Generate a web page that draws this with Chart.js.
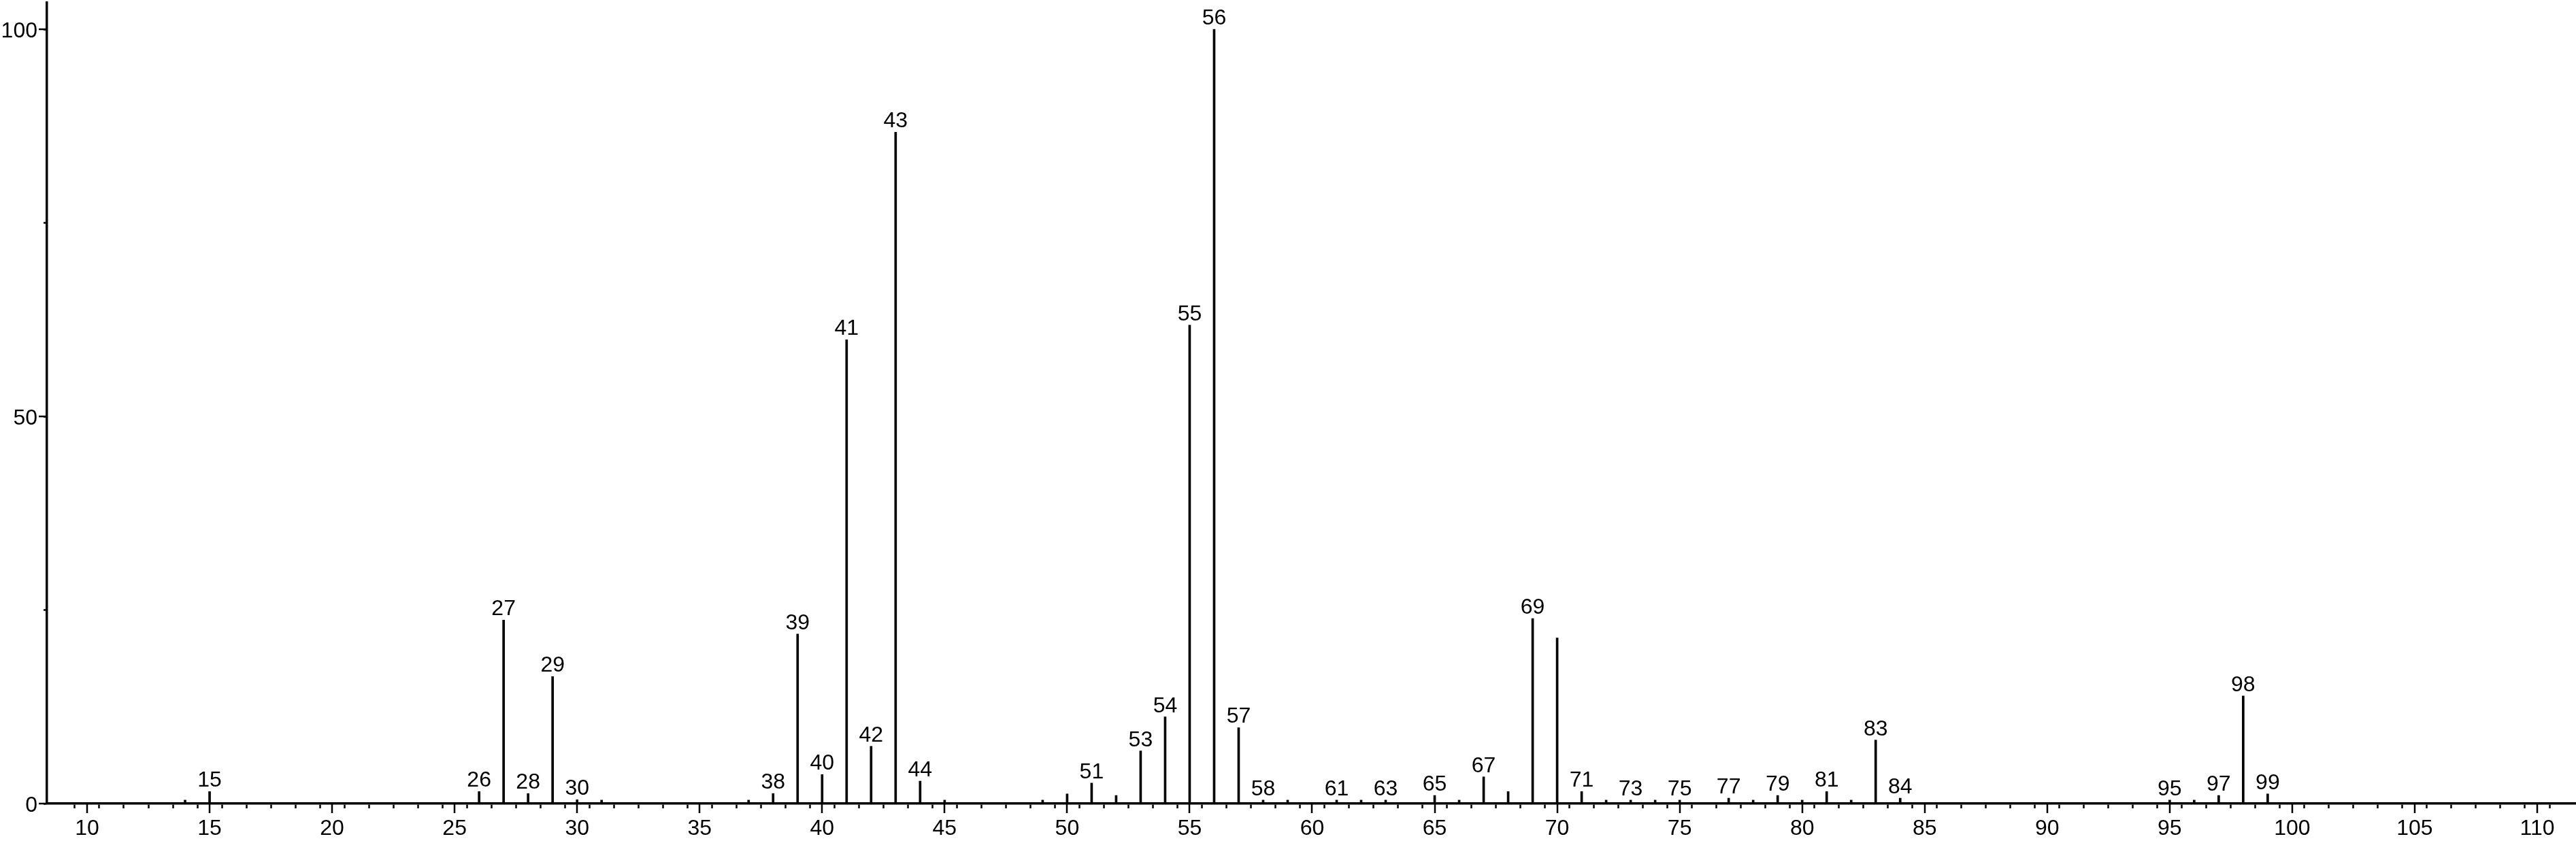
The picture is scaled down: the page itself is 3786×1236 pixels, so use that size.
<!DOCTYPE html>
<html>
<head>
<meta charset="utf-8">
<script src="https://cdn.jsdelivr.net/npm/chart.js@4.4.1/dist/chart.umd.min.js"></script>
<style>
  html, body { margin: 0; padding: 0; background: #fff; }
  #wrap { width: 3786px; height: 1236px; position: relative; }
</style>
</head>
<body>
<div id="wrap"><canvas id="ms-chart"></canvas></div>
<script>
// m/z waarden en relatieve intensiteit (%)
const masses = [14, 15, 26, 27, 28, 29, 30, 31, 37, 38, 39, 40, 41, 42, 43, 44, 45,
  49, 50, 51, 52, 53, 54, 55, 56, 57, 58, 59, 61, 62, 63, 65, 66, 67, 68, 69, 70,
  71, 72, 73, 74, 75, 77, 78, 79, 80, 81, 82, 83, 84, 95, 96, 97, 98, 99];
const intensities = [0.45, 1.55, 1.55, 23.7, 1.3, 16.4, 0.5, 0.45, 0.45, 1.3, 21.9, 3.75, 59.9, 7.4, 86.7, 2.9, 0.45,
  0.45, 1.25, 2.65, 1.05, 6.8, 11.2, 61.8, 100, 9.8, 0.45, 0.45, 0.45, 0.45, 0.45, 1.05, 0.45, 3.45, 1.55, 23.9, 21.4,
  1.55, 0.45, 0.45, 0.45, 0.45, 0.7, 0.45, 1.05, 0.45, 1.55, 0.45, 8.2, 0.7, 0.45, 0.45, 1.05, 13.9, 1.25];

// pieken met een label erboven
const labeledMasses = [15, 26, 27, 28, 29, 30, 38, 39, 40, 41, 42, 43, 44, 51, 53, 54, 55, 56, 57,
  58, 61, 63, 65, 67, 69, 71, 73, 75, 77, 79, 81, 83, 84, 95, 97, 98, 99];

// as-ticks
const xMajorTicks = [10, 15, 20, 25, 30, 35, 40, 45, 50, 55, 60, 65, 70, 75, 80, 85, 90, 95, 100, 105, 110];
const yLabelTicks = [0, 50, 100];

const FONT = "'Liberation Sans', Arial, sans-serif";

const peakLabels = {
  id: "peakLabels",
  afterDatasetsDraw(chart) {
    const ctx = chart.ctx;
    const meta = chart.getDatasetMeta(0);
    ctx.save();
    ctx.fillStyle = "#000";
    ctx.font = `32px ${FONT}`;
    ctx.textAlign = "center";
    ctx.textBaseline = "alphabetic";
    meta.data.forEach((bar, i) => {
      if (!labeledMasses.includes(masses[i])) return;
      ctx.fillText(String(masses[i]), bar.x, bar.y - 7);
    });
    ctx.restore();
  },
  afterDraw(chart) {
    // langere streepjes voor de hoofdticks
    const ctx = chart.ctx;
    const xs = chart.scales.x;
    const ys = chart.scales.y;
    ctx.save();
    ctx.strokeStyle = "#000";
    ctx.lineWidth = 2.5;
    ctx.beginPath();
    xMajorTicks.forEach((v) => {
      const px = Math.round(xs.getPixelForValue(v));
      ctx.moveTo(px, xs.top);
      ctx.lineTo(px, xs.top + 14);
    });
    yLabelTicks.forEach((v) => {
      const py = Math.round(ys.getPixelForValue(v));
      ctx.moveTo(ys.right - 12, py);
      ctx.lineTo(ys.right, py);
    });
    ctx.stroke();
    ctx.restore();
  }
};

const canvas = document.getElementById("ms-chart");
new Chart(canvas, {
  type: "bar",
  data: {
    datasets: [
      {
        label: "Intensiteit",
        data: masses.map((m, i) => ({ x: m, y: intensities[i] })),
        backgroundColor: "#000",
        borderWidth: 0,
        barThickness: 3,
        grouped: false
      }
    ]
  },
  options: {
    responsive: true,
    maintainAspectRatio: false,
    animation: false,
    layout: { padding: { top: 4, right: 0, bottom: 0, left: 0 } },
    plugins: {
      legend: { display: false },
      tooltip: { enabled: false }
    },
    scales: {
      x: {
        type: "linear",
        offset: false,
        min: 8.362,
        max: 111.583,
        border: { display: true, color: "#000", width: 3.5 },
        grid: { drawOnChartArea: false, drawTicks: true, tickLength: 7, tickWidth: 2.5, tickColor: "#000" },
        ticks: {
          stepSize: 1,
          includeBounds: false,
          autoSkip: false,
          maxRotation: 0,
          padding: 11,
          color: "#000",
          font: { family: FONT, size: 32 },
          callback: (v) => (xMajorTicks.includes(v) ? String(v) : "")
        },
        afterBuildTicks: (scale) => {
          scale.ticks = scale.ticks.filter((t) => t.value >= 10 && t.value <= 110);
        },
        afterFit: (scale) => {
          scale.height = 55;
          scale.paddingLeft = 0;
          scale.paddingRight = 0;
        }
      },
      y: {
        type: "linear",
        min: 0,
        max: 103.43,
        border: { display: true, color: "#000", width: 3.5 },
        grid: { drawOnChartArea: false, drawTicks: true, tickLength: 5, tickWidth: 2.5, tickColor: "#000" },
        ticks: {
          stepSize: 25,
          includeBounds: false,
          autoSkip: false,
          padding: 9,
          labelOffset: 3,
          color: "#000",
          font: { family: FONT, size: 32 },
          callback: (v) => (yLabelTicks.includes(v) ? String(v) : "")
        },
        afterFit: (scale) => {
          scale.width = 69;
          scale.paddingTop = 0;
          scale.paddingBottom = 0;
        }
      }
    }
  },
  plugins: [peakLabels]
});
</script>
</body>
</html>
